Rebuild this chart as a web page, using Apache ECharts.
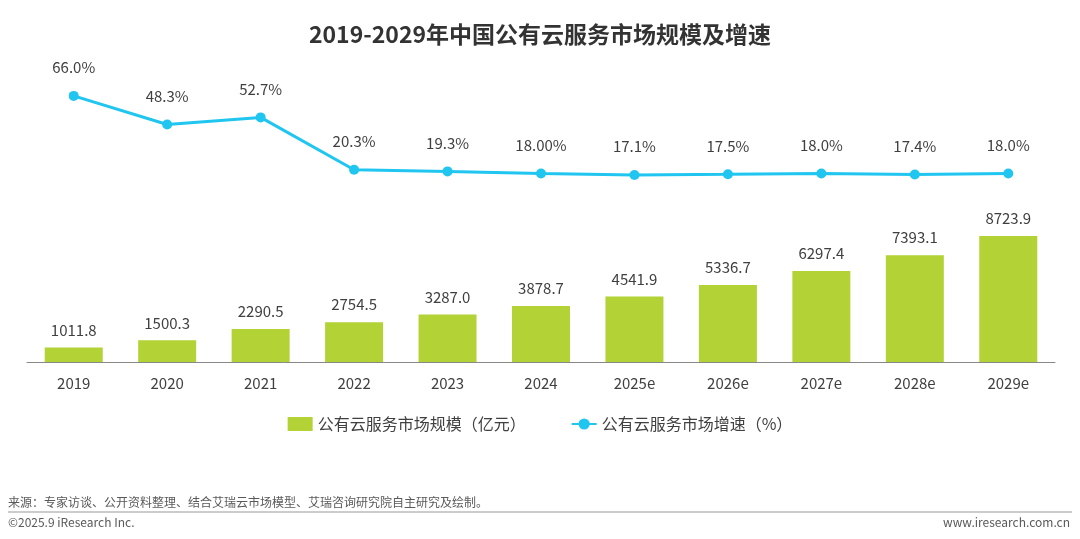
<!DOCTYPE html><html><head><meta charset="utf-8"><script src="https://cdn.jsdelivr.net/npm/echarts@6/dist/echarts.min.js"></script></head><body style="margin:0"><div id="c" style="width:1080px;height:539px"></div><script>
const categories=['2019','2020','2021','2022','2023','2024','2025e','2026e','2027e','2028e','2029e'];
const sizeValues=[1011.8,1500.3,2290.5,2754.5,3287.0,3878.7,4541.9,5336.7,6297.4,7393.1,8723.9];
const growthValues=[66.0,48.3,52.7,20.3,19.3,18.0,17.1,17.5,18.0,17.4,18.0];
const growthLabels=['66.0%','48.3%','52.7%','20.3%','19.3%','18.00%','17.1%','17.5%','18.0%','17.4%','18.0%'];
const ch=echarts.init(document.getElementById('c'));
const F='"Microsoft YaHei","Noto Sans CJK SC",sans-serif';
ch.setOption({
 title:{text:'2019-2029年中国公有云服务市场规模及增速',left:'center',top:18,textStyle:{fontSize:23,fontWeight:'bold',color:'#333',fontFamily:F}},
 grid:{left:27,right:25,top:60,bottom:177},
 legend:{bottom:102,itemGap:45,textStyle:{fontSize:16,color:'#404040',fontFamily:F},data:[{name:'公有云服务市场规模（亿元）',icon:'rect',itemWidth:30,itemHeight:10},{name:'公有云服务市场增速（%）',itemWidth:30}]},
 xAxis:{type:'category',data:categories,axisTick:{show:false},axisLine:{lineStyle:{color:'#888'}},axisLabel:{fontSize:15,color:'#404040',margin:14,fontFamily:F}},
 yAxis:[{type:'value',min:0,max:20910,show:false},{type:'value',min:-98.6,max:88.2,show:false}],
 series:[
 {name:'公有云服务市场规模（亿元）',type:'bar',data:sizeValues,barWidth:58,itemStyle:{color:'#b2d235'},label:{show:true,position:'top',distance:10,fontSize:15,color:'#404040',fontFamily:F,formatter:p=>p.value.toFixed(1)}},
 {name:'公有云服务市场增速（%）',type:'line',yAxisIndex:1,data:growthValues,symbol:'circle',symbolSize:10,lineStyle:{width:3,color:'#20c6f0'},itemStyle:{color:'#20c6f0'},label:{show:true,position:'top',distance:16,fontSize:15,color:'#404040',fontFamily:F,formatter:p=>growthLabels[p.dataIndex]}}
 ],
 graphic:[
 {type:'text',left:8,top:496,style:{text:'来源：专家访谈、公开资料整理、结合艾瑞云市场模型、艾瑞咨询研究院自主研究及绘制。',fontSize:12,fill:'#595959',fontFamily:F}},
 {type:'line',shape:{x1:8,y1:512,x2:1072,y2:512},style:{stroke:'#999',lineWidth:1}},
 {type:'text',left:8,top:516,style:{text:'©2025.9 iResearch Inc.',fontSize:12,fill:'#595959',fontFamily:F}},
 {type:'text',right:10,top:516,style:{text:'www.iresearch.com.cn',fontSize:12,fill:'#595959',fontFamily:F}}
 ]
});
</script></body></html>
